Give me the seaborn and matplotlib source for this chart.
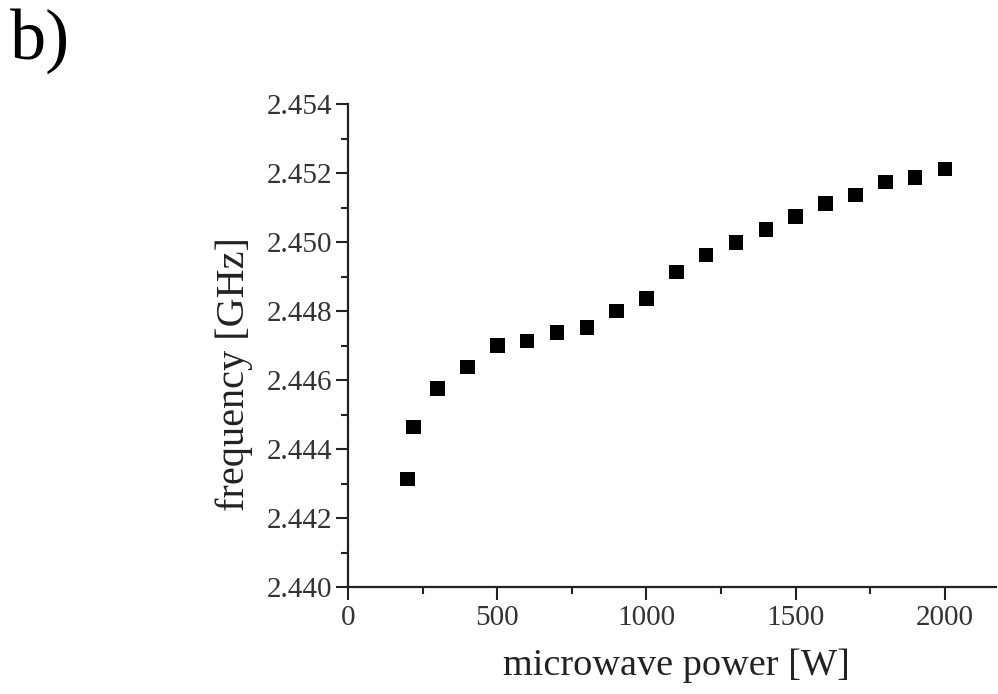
import matplotlib
matplotlib.use("Agg")
import matplotlib.pyplot as plt
import seaborn as sns
import pandas as pd
from matplotlib.ticker import MultipleLocator, FormatStrFormatter

power = [200, 220, 300, 400, 500, 600, 700, 800, 900, 1000,
         1100, 1200, 1300, 1400, 1500, 1600, 1700, 1800, 1900, 2000]
frequency = [2.44313, 2.44464, 2.44576, 2.44638, 2.44700, 2.44713, 2.44738, 2.44752,
             2.44800, 2.44837, 2.44913, 2.44962, 2.44999, 2.45037, 2.45074, 2.45111,
             2.45136, 2.45174, 2.45187, 2.45212]

df = pd.DataFrame({"power": power, "frequency": frequency})

sns.set_theme(style="ticks")
plt.rcParams["font.family"] = ["Liberation Serif", "DejaVu Serif"]

fig = plt.figure(figsize=(9.98, 6.94), dpi=100)
ax = fig.add_axes([348/998, 1-587/694, (996-348)/998, (587-104)/694])

sns.scatterplot(data=df, x="power", y="frequency", marker="s", s=110,
                color="black", edgecolor="none", ax=ax)

ax.set_xlim(0, 2171)
ax.set_ylim(2.440, 2.454)
ax.xaxis.set_major_locator(MultipleLocator(500))
ax.xaxis.set_minor_locator(MultipleLocator(250))
ax.yaxis.set_major_locator(MultipleLocator(0.002))
ax.yaxis.set_minor_locator(MultipleLocator(0.001))
ax.yaxis.set_major_formatter(FormatStrFormatter("%.3f"))

for s in ["top", "right"]:
    ax.spines[s].set_visible(False)
for s in ["left", "bottom"]:
    ax.spines[s].set_linewidth(1.6)
    ax.spines[s].set_color("#222222")

ax.tick_params(which="major", direction="out", length=9, width=1.5,
               labelsize=21, colors="#222222", pad=4)
ax.tick_params(axis="y", which="major", pad=2)
ax.tick_params(which="minor", direction="out", length=5, width=1.5, colors="#222222")
for lab in ax.get_xticklabels() + ax.get_yticklabels():
    lab.set_color("#333333")

ax.set_xlabel("microwave power [W]", fontsize=27.5, color="#222222")
ax.xaxis.set_label_coords(0.507, -0.128)
ax.set_ylabel("frequency [GHz]", fontsize=29, color="#222222")
ax.yaxis.set_label_coords(-0.147, 0.44)

fig.text(0.01, 0.988, "b)", fontsize=52, va="top", ha="left", color="black")

fig.savefig("out.png", dpi=100, facecolor="white")
